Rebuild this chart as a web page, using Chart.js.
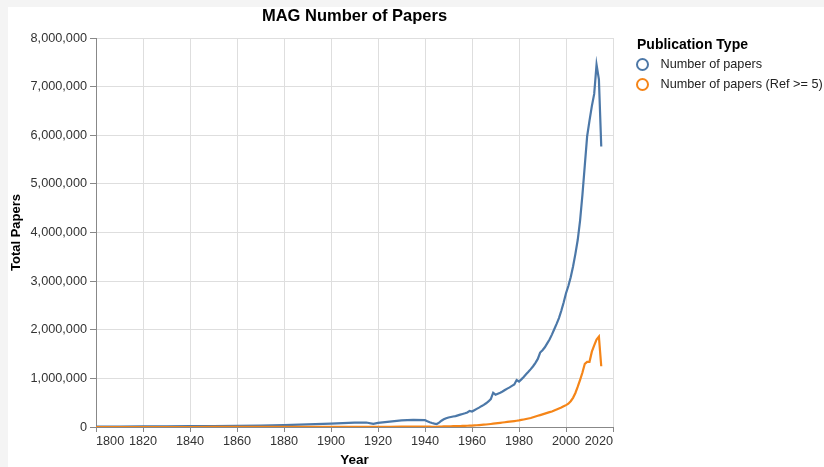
<!DOCTYPE html>
<html>
<head>
<meta charset="utf-8">
<script src="https://cdn.jsdelivr.net/npm/chart.js@4/dist/chart.umd.min.js"></script>
<style>
  html, body { margin: 0; padding: 0; background: #f4f4f4; }
  #wrap { position: absolute; left: 8px; top: 7px; width: 816px; height: 460px; background: #fff; }
</style>
</head>
<body>
<div id="wrap"><canvas id="chart" width="816" height="460"></canvas></div>
<script>
const chartTitle = "MAG Number of Papers";
const legendTitle = "Publication Type";
const seriesNames = ["Number of papers", "Number of papers (Ref >= 5)"];
const seriesColors = ["#4c78a8", "#f58518"];

const years = [
  1800, 1810, 1820, 1830, 1840, 1850, 1860, 1870, 1880, 1890,
  1900, 1905, 1910, 1915, 1918, 1920, 1925, 1930, 1935, 1940,
  1941, 1942, 1943, 1944, 1945, 1946, 1947, 1948, 1949, 1950,
  1951, 1952, 1953, 1954, 1955, 1956, 1957, 1958, 1959, 1960,
  1961, 1962, 1963, 1964, 1965, 1966, 1967, 1968, 1969, 1970,
  1971, 1972, 1973, 1974, 1975, 1976, 1977, 1978, 1979, 1980,
  1981, 1982, 1983, 1984, 1985, 1986, 1987, 1988, 1989, 1990,
  1991, 1992, 1993, 1994, 1995, 1996, 1997, 1998, 1999, 2000,
  2001, 2002, 2003, 2004, 2005, 2006, 2007, 2008, 2009, 2010,
  2011, 2012, 2013, 2014, 2015
];

const papers = [
  8000, 10000, 12000, 15000, 18000, 21000, 25000, 30000, 38000, 52000,
  70000, 78000, 88000, 92000, 65000, 85000, 110000, 135000, 148000, 140000,
  118000, 98000, 82000, 70000, 62000, 90000, 130000, 158000, 180000, 195000,
  205000, 215000, 225000, 240000, 255000, 268000, 282000, 298000, 330000, 318000,
  345000, 372000, 398000, 428000, 455000, 488000, 525000, 575000, 705000, 665000,
  685000, 705000, 730000, 760000, 790000, 815000, 845000, 875000, 965000, 935000,
  980000, 1030000, 1085000, 1135000, 1190000, 1250000, 1320000, 1400000, 1530000, 1580000,
  1640000, 1720000, 1800000, 1900000, 2010000, 2120000, 2240000, 2390000, 2560000, 2750000,
  2900000, 3080000, 3300000, 3560000, 3850000, 4250000, 4780000, 5380000, 5980000, 6300000,
  6600000, 6850000, 7450000, 7150000, 5770000
];

const papersRef5 = [
  0, 0, 0, 500, 500, 1000, 1000, 1500, 2000, 2500,
  3000, 3500, 4000, 4000, 3000, 4000, 5000, 6000, 7000, 7000,
  6500, 6000, 5500, 5000, 5000, 7000, 9000, 11000, 12000, 14000,
  15000, 16000, 17000, 18000, 20000, 22000, 24000, 26000, 28000, 30000,
  33000, 36000, 40000, 43000, 47000, 52000, 57000, 62000, 68000, 74000,
  80000, 86000, 92000, 98000, 104000, 110000, 116000, 122000, 128000, 135000,
  145000, 155000, 165000, 175000, 185000, 200000, 215000, 230000, 245000, 260000,
  275000, 290000, 305000, 320000, 340000, 360000, 380000, 400000, 425000, 450000,
  480000, 530000, 600000, 700000, 830000, 970000, 1120000, 1300000, 1340000, 1340000,
  1550000, 1680000, 1800000, 1860000, 1250000
];

const FONT = "'Liberation Sans', Arial, Helvetica, sans-serif";
const withCommas = v => String(v).replace(/\B(?=(\d{3})+(?!\d))/g, ",");

// title + legend drawn by hand so they sit like the vega layout
const overlay = {
  id: "overlay",
  afterDraw(chart) {
    const ctx = chart.ctx;
    const area = chart.chartArea;
    ctx.save();
    ctx.fillStyle = "#000";
    ctx.textBaseline = "middle";
    ctx.textAlign = "center";
    ctx.font = "bold 16.5px " + FONT;
    ctx.fillText(chartTitle, (area.left + area.right) / 2, 9);

    const lx = area.right + 24;
    ctx.textAlign = "left";
    ctx.font = "bold 14px " + FONT;
    ctx.fillText(legendTitle, lx, 38);
    ctx.font = "12.7px " + FONT;
    seriesNames.forEach((name, i) => {
      const cy = 57.5 + i * 20;
      ctx.beginPath();
      ctx.arc(lx + 5.5, cy, 5.5, 0, Math.PI * 2);
      ctx.strokeStyle = seriesColors[i];
      ctx.lineWidth = 2;
      ctx.stroke();
      ctx.fillStyle = "#222";
      ctx.fillText(name, lx + 23.5, cy);
    });
    ctx.restore();
  }
};

const toPoints = vals => years.map((y, i) => ({ x: y, y: vals[i] }));

new Chart(document.getElementById("chart").getContext("2d"), {
  type: "line",
  data: {
    datasets: [
      {
        label: seriesNames[0],
        data: toPoints(papers),
        borderColor: seriesColors[0],
        borderWidth: 2.2,
        pointRadius: 0,
        tension: 0,
        order: 1
      },
      {
        label: seriesNames[1],
        data: toPoints(papersRef5),
        borderColor: seriesColors[1],
        borderWidth: 2.2,
        pointRadius: 0,
        tension: 0,
        order: 0
      }
    ]
  },
  options: {
    responsive: false,
    animation: false,
    layout: { padding: { left: 0, top: 31, right: 211, bottom: 0 } },
    plugins: {
      legend: { display: false },
      tooltip: { enabled: false },
      title: { display: false }
    },
    scales: {
      x: {
        type: "linear",
        min: 1800,
        max: 2020,
        ticks: {
          stepSize: 20,
          align: "inner",
          maxRotation: 0,
          autoSkip: false,
          padding: 2,
          color: "#333",
          font: { family: FONT, size: 12.7 },
          callback: v => String(v)
        },
        grid: { color: "#dedede", tickColor: "#888", tickLength: 5 },
        border: { color: "#888" },
        title: {
          display: true,
          text: "Year",
          color: "#000",
          font: { family: FONT, size: 13.5, weight: "bold", lineHeight: 1 },
          padding: { top: 0, bottom: 0 }
        },
        afterFit(s) { s.height = 40; }
      },
      y: {
        min: 0,
        max: 8000000,
        ticks: {
          stepSize: 1000000,
          padding: 3,
          color: "#333",
          font: { family: FONT, size: 12.7 },
          callback: v => withCommas(v)
        },
        grid: { color: "#dedede", tickColor: "#888", tickLength: 6 },
        border: { color: "#888" },
        title: {
          display: true,
          text: "Total Papers",
          color: "#000",
          font: { family: FONT, size: 13, weight: "bold" },
          padding: { top: 1, bottom: 0 }
        },
        afterFit(s) { s.width = 88; }
      }
    }
  },
  plugins: [overlay]
});
</script>
</body>
</html>
